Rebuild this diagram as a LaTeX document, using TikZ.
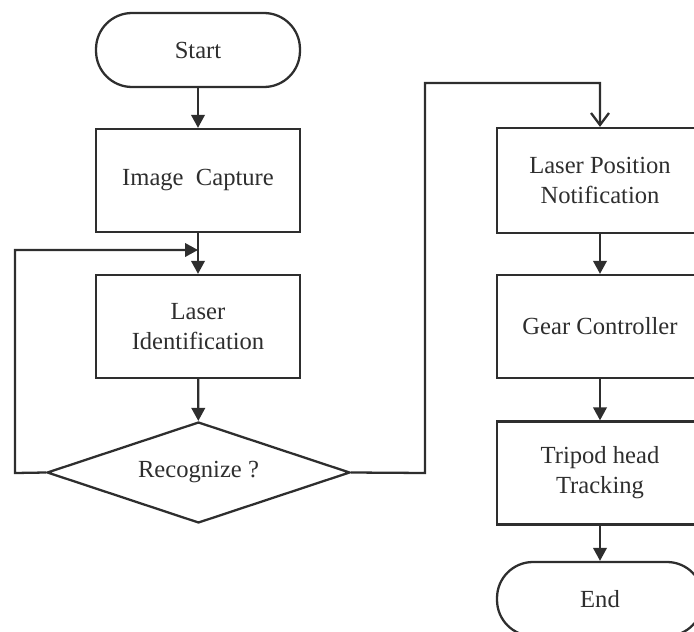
\documentclass[tikz,border=0pt]{standalone}
\usepackage{fontspec}
\setmainfont{Liberation Serif}
\usetikzlibrary{arrows.meta,shapes.geometric,positioning}
\definecolor{ink}{HTML}{2E2E2E}
\begin{document}
\begin{tikzpicture}[x=0.02cm,y=-0.02cm,
  every node/.style={font=\fontsize{14}{17}\selectfont, text=ink},
  procbox/.style={draw=ink, line width=1.3pt, rectangle, minimum width=4.08cm, minimum height=2.06cm, align=center, inner sep=2pt},
  termbox/.style={draw=ink, line width=1.3pt, rectangle, rounded corners=0.72cm, minimum width=4.08cm, minimum height=1.48cm, align=center},
  decbox/.style={draw=ink, line width=1.3pt, diamond, aspect=3, minimum width=6.06cm, minimum height=2.02cm, inner sep=0pt, align=center},
  conn/.style={draw=ink, line width=1.3pt},
  farrow/.style={conn, -{Triangle[length=0.26cm,width=0.27cm]}},
  oarrow/.style={conn, -{Straight Barb[length=0.24cm,width=0.36cm,line width=1.3pt]}}
]
\useasboundingbox (0,0) rectangle (694,632);
\clip (0,0) rectangle (694,632);

\node[termbox] (start) at (198,50) {Start};
\node[procbox] (cap) at (198,180.5) {Image\ \ Capture};
\node[procbox] (lid) at (198,326.5) {Laser\\Identification};
\node[decbox] (rec) at (198.5,472.5) {Recognize ?};

\node[procbox, minimum width=4.12cm, minimum height=2.1cm] (lpn) at (600,180.5) {Laser Position\\Notification};
\node[procbox, minimum width=4.12cm] (gear) at (600,326.5) {Gear Controller};
\node[procbox, minimum width=4.12cm] (trip) at (600,473) {Tripod head\\Tracking};
\node[termbox, minimum width=4.12cm] (end) at (600,599) {End};

\coordinate (loopL1) at (15,473);
\coordinate (loopL2) at (15,250);
\coordinate (loopL3) at (198,250);
\coordinate (r1) at (425,473);
\coordinate (r2) at (425,83);
\coordinate (r3) at (600,83);

\draw[farrow] (start) -- (cap);
\draw[farrow] (cap) -- (lid);
\draw[farrow] (lid) -- (rec);
\draw[farrow] (rec.west) -- (loopL1) -- (loopL2) -- (loopL3);
\draw[oarrow] (rec.east) -- (r1) -- (r2) -- (r3) -- (lpn.north);
\draw[farrow] (lpn) -- (gear);
\draw[farrow] (gear) -- (trip);
\draw[farrow] (trip) -- (end);
\end{tikzpicture}
\end{document}
